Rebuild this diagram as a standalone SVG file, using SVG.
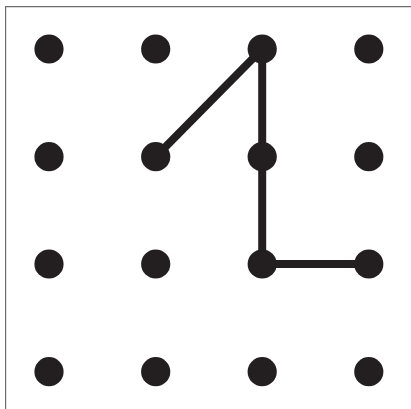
<svg xmlns="http://www.w3.org/2000/svg" width="411" height="409" viewBox="0 0 411 409">
<style>
.dot{fill:#231f20}
.edge{stroke:#231f20;stroke-width:8;fill:none;stroke-linecap:butt}
.frame{stroke:#6d6d6d;stroke-width:1.2;fill:none}
</style>
<rect width="411" height="409" fill="#fff"/>
<path class="frame" d="M5.6,409 V6.6 H411"/>
<g id="connectors">
<line class="edge" x1="155.7" y1="156.7" x2="262.2" y2="49"/>
<line class="edge" x1="262.2" y1="49" x2="262.2" y2="264"/>
<line class="edge" x1="262.2" y1="264" x2="368.8" y2="264"/>
</g>
<g id="n11"><circle class="dot" cx="49" cy="49" r="14.6"/></g>
<g id="n12"><circle class="dot" cx="155.7" cy="49" r="14.6"/></g>
<g id="n13"><circle class="dot" cx="262.2" cy="49" r="14.6"/></g>
<g id="n14"><circle class="dot" cx="368.8" cy="49" r="14.6"/></g>
<g id="n21"><circle class="dot" cx="49" cy="156.7" r="14.6"/></g>
<g id="n22"><circle class="dot" cx="155.7" cy="156.7" r="14.6"/></g>
<g id="n23"><circle class="dot" cx="262.2" cy="156.7" r="14.6"/></g>
<g id="n24"><circle class="dot" cx="368.8" cy="156.7" r="14.6"/></g>
<g id="n31"><circle class="dot" cx="49" cy="264" r="14.6"/></g>
<g id="n32"><circle class="dot" cx="155.7" cy="264" r="14.6"/></g>
<g id="n33"><circle class="dot" cx="262.2" cy="264" r="14.6"/></g>
<g id="n34"><circle class="dot" cx="368.8" cy="264" r="14.6"/></g>
<g id="n41"><circle class="dot" cx="49" cy="371.7" r="14.6"/></g>
<g id="n42"><circle class="dot" cx="155.7" cy="371.7" r="14.6"/></g>
<g id="n43"><circle class="dot" cx="262.2" cy="371.7" r="14.6"/></g>
<g id="n44"><circle class="dot" cx="368.8" cy="371.7" r="14.6"/></g>
</svg>
